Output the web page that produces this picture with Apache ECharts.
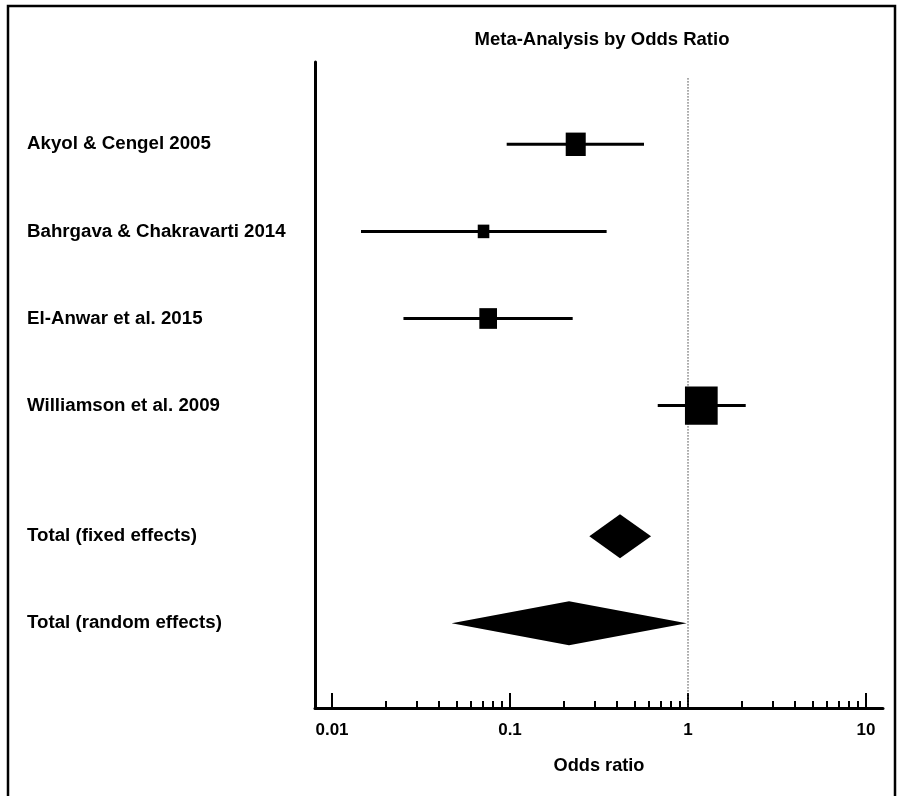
<!DOCTYPE html>
<html>
<head>
<meta charset="utf-8">
<script src="https://cdn.jsdelivr.net/npm/echarts@6/dist/echarts.min.js"></script>
<style>
html,body{margin:0;padding:0;background:#fff;}
#chart{width:900px;height:796px;}
</style>
</head>
<body>
<div id="chart"></div>
<script>
// ---- data ----
const categories = ['Akyol & Cengel 2005', 'Bahrgava & Chakravarti 2014', 'El-Anwar et al. 2015', 'Williamson et al. 2009', 'Total (fixed effects)', 'Total (random effects)'];
const rowPos = [0, 1, 2, 3, 4.5, 5.5];
const studyOR = [0.234, 0.071, 0.0754, 1.188];
const studyLower = [0.0958, 0.01455, 0.0252, 0.676];
const studyUpper = [0.566, 0.349, 0.225, 2.11];
const studyWeight = [20.9, 7.0, 16.3, 55.8];
const pooledOR = [0.415, 0.2146];
const pooledLower = [0.279, 0.047];
const pooledUpper = [0.620, 0.983];
const majorTicks = [0.01, 0.1, 1, 10];
const tickLabels = ['0.01', '0.1', '1', '10'];
const minorTicks = [0.02, 0.03, 0.04, 0.05, 0.06, 0.07, 0.08, 0.09,
                    0.2, 0.3, 0.4, 0.5, 0.6, 0.7, 0.8, 0.9,
                    2, 3, 4, 5, 6, 7, 8, 9];
const nullValue = 1;
const titleText = 'Meta-Analysis by Odds Ratio';
const xAxisTitle = 'Odds ratio';

// ---- build ----
const FONT = '"Liberation Sans", Arial, sans-serif';
const xMin = 0.008025, xMax = 12.46;
const yMin = -0.945, yMax = 6.472;

const studyData = studyOR.map((v, i) => [v, studyLower[i], studyUpper[i], rowPos[i], studyWeight[i]]);
const pooledData = pooledOR.map((v, i) => [v, pooledLower[i], pooledUpper[i], rowPos[4 + i]]);

function labelFor(value) {
  let best = 0, bd = Infinity;
  majorTicks.forEach((t, i) => {
    const d = Math.abs(Math.log10(value) - Math.log10(t));
    if (d < bd) { bd = d; best = i; }
  });
  return tickLabels[best];
}

const chart = echarts.init(document.getElementById('chart'), null, {renderer: 'canvas'});
chart.setOption({
  backgroundColor: '#fff',
  animation: false,
  title: {
    text: titleText,
    left: 602,
    textAlign: 'center',
    top: 30,
    padding: 0,
    textStyle: {fontFamily: FONT, fontWeight: 'bold', fontSize: 18.5, color: '#000'}
  },
  graphic: [{
    type: 'rect',
    shape: {x: 8, y: 6, width: 887, height: 800},
    style: {fill: 'none', stroke: '#000', lineWidth: 2.5},
    silent: true
  }],
  grid: {left: 315, top: 62, width: 568, height: 646, containLabel: false, outerBoundsMode: 'none'},
  xAxis: [{
    type: 'log', logBase: 10, min: xMin, max: xMax, position: 'bottom',
    name: xAxisTitle, nameLocation: 'middle', nameGap: 49,
    nameTextStyle: {fontFamily: FONT, fontWeight: 'bold', fontSize: 18.2, color: '#000'},
    axisLine: {show: true, onZero: false, lineStyle: {color: '#000', width: 3}},
    axisTick: {show: true, inside: true, length: 15, customValues: majorTicks, lineStyle: {color: '#000', width: 2}},
    axisLabel: {show: true, customValues: majorTicks, margin: 14, formatter: labelFor,
      fontFamily: FONT, fontWeight: 'bold', fontSize: 17, color: '#000'},
    splitLine: {show: false}, minorTick: {show: false}
  }, {
    type: 'log', logBase: 10, min: xMin, max: xMax, position: 'bottom', gridIndex: 0,
    axisLine: {show: false, onZero: false},
    axisTick: {show: true, inside: true, length: 7, customValues: minorTicks, lineStyle: {color: '#000', width: 2}},
    axisLabel: {show: false},
    splitLine: {show: false}
  }],
  yAxis: {
    type: 'value', inverse: true, min: yMin, max: yMax, position: 'left',
    axisLine: {show: true, onZero: false, lineStyle: {color: '#000', width: 3}},
    axisTick: {show: false},
    splitLine: {show: false},
    axisLabel: {
      show: true, customValues: rowPos, align: 'left', margin: 288,
      formatter: function (v) {
        let best = 0, bd = Infinity;
        rowPos.forEach((p, i) => { const d = Math.abs(p - v); if (d < bd) { bd = d; best = i; } });
        return categories[best];
      },
      fontFamily: FONT, fontWeight: 'bold', fontSize: 18.7, color: '#000'
    }
  },
  series: [{
    type: 'line',
    xAxisIndex: 0,
    data: [[nullValue, -0.76], [nullValue, yMax]],
    symbol: 'none',
    lineStyle: {color: '#444', width: 1, type: [1.5, 1.5]},
    z: 1,
    silent: true
  }, {
    type: 'custom',
    xAxisIndex: 0,
    data: studyData,
    encode: {x: [0, 1, 2], y: 3},
    z: 3,
    renderItem: function (params, api) {
      const pt = api.value(0), lo = api.value(1), hi = api.value(2), y = api.value(3), w = api.value(4);
      const a = api.coord([lo, y]), b = api.coord([hi, y]), c = api.coord([pt, y]);
      const side = 4.38 * Math.sqrt(w);
      return {
        type: 'group',
        children: [{
          type: 'line',
          shape: {x1: a[0], y1: a[1], x2: b[0], y2: b[1]},
          style: {stroke: '#000', lineWidth: 3}
        }, {
          type: 'rect',
          shape: {x: c[0] - side / 2, y: c[1] - side * 0.585, width: side, height: side * 1.17},
          style: {fill: '#000'}
        }]
      };
    }
  }, {
    type: 'custom',
    xAxisIndex: 0,
    data: pooledData,
    encode: {x: [0, 1, 2], y: 3},
    z: 3,
    renderItem: function (params, api) {
      const pt = api.value(0), lo = api.value(1), hi = api.value(2), y = api.value(3);
      const a = api.coord([lo, y]), b = api.coord([hi, y]), c = api.coord([pt, y]);
      const h = 22;
      return {
        type: 'polygon',
        shape: {points: [[a[0], a[1]], [c[0], c[1] - h], [b[0], b[1]], [c[0], c[1] + h]]},
        style: {fill: '#000'}
      };
    }
  }]
});
</script>
</body>
</html>
